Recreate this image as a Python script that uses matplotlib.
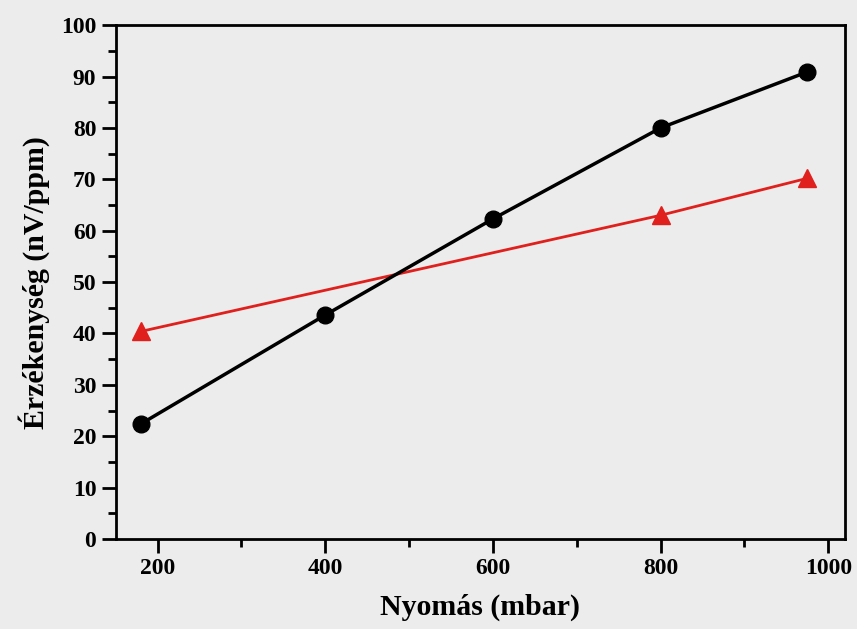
import matplotlib
matplotlib.use("Agg")
import matplotlib.pyplot as plt
from matplotlib.ticker import MultipleLocator

# Adatok (leolvasva az ábráról)
pressure_black = [180, 400, 600, 800, 975]
sens_black = [22.4, 43.6, 62.3, 80.0, 90.9]
pressure_red = [180, 800, 975]
sens_red = [40.4, 63.0, 70.2]

plt.rcParams['font.family'] = ['Liberation Serif', 'DejaVu Serif']
plt.rcParams['font.weight'] = 'bold'

bg = '#ececec'
fig = plt.figure(figsize=(8.57, 6.29), dpi=100, facecolor=bg)
ax = fig.add_axes([0.135, 0.143, 0.851, 0.817])
ax.set_facecolor(bg)

ax.plot(pressure_red, sens_red, color='#e0201c', lw=2, marker='^', ms=13,
        markeredgecolor='#e0201c', zorder=3)
ax.plot(pressure_black, sens_black, color='black', lw=2.5, marker='o', ms=12,
        zorder=4)

ax.set_xlim(150, 1020)
ax.set_ylim(0, 100)
ax.xaxis.set_major_locator(MultipleLocator(200))
ax.xaxis.set_minor_locator(MultipleLocator(100))
ax.yaxis.set_major_locator(MultipleLocator(10))
ax.yaxis.set_minor_locator(MultipleLocator(5))

for s in ax.spines.values():
    s.set_linewidth(2)
ax.tick_params(which='major', direction='out', length=10, width=2, labelsize=17, pad=4)
ax.tick_params(which='minor', direction='out', length=6, width=2)
for lab in ax.get_xticklabels() + ax.get_yticklabels():
    lab.set_fontweight('bold')

ax.set_xlabel('Nyomás (mbar)', fontsize=21.5, fontweight='bold', labelpad=10)
ax.set_ylabel('Érzékenység (nV/ppm)', fontsize=21.5, fontweight='bold', labelpad=8)

fig.savefig('out.png', dpi=100, facecolor=bg)
